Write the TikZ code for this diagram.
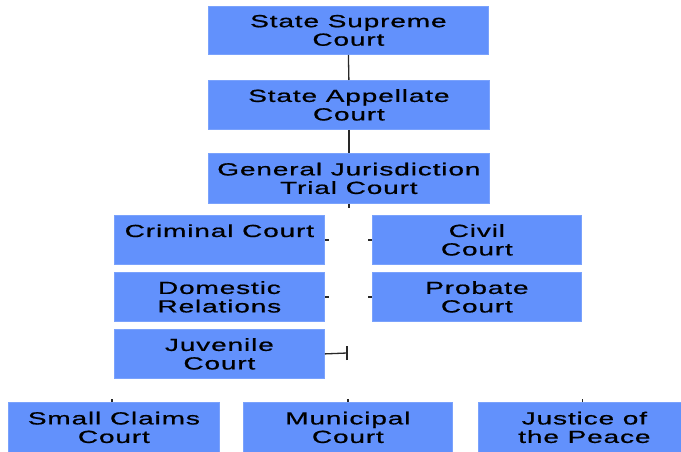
\documentclass[tikz,border=0pt]{standalone}
\usepackage{fontspec}
\setmainfont{Liberation Sans}[FakeStretch=1.6, LetterSpace=5, FakeBold=0.8]
\definecolor{boxblue}{RGB}{98,145,252}
\definecolor{linegray}{RGB}{40,40,40}
\tikzset{
  court/.style={draw=boxblue!85!white, line width=0.8pt, fill=boxblue, rectangle, anchor=north west,
    inner sep=0pt, align=center, font=\fontsize{17.5}{18.5}\selectfont, text=black},
  conn/.style={draw=linegray, line width=1.3pt},
}
\begin{document}
\begin{tikzpicture}[x=1pt,y=-1pt]
\clip (0,0) rectangle (681,451);
\useasboundingbox (0,0) rectangle (681,451);
\newcommand{\court}[6]{%
  \node[court, minimum width=#4-#2, minimum height=#5-#3] (#1) at (#2,#3) {#6};}
\court{sup}{208}{6}{488}{54}{State Supreme\\Court}
\court{app}{208}{80}{489}{129}{State Appellate\\Court}
\court{gen}{208}{153}{489}{203}{General Jurisdiction\\Trial Court}
\court{crim}{114}{215}{324}{264}{Criminal Court\\\mbox{}}
\court{civ}{372}{215}{581}{264}{Civil\\Court}
\court{dom}{114}{272}{324}{321}{Domestic\\Relations}
\court{prob}{372}{272}{581}{321}{Probate\\Court}
\court{juv}{114}{329}{324}{378}{Juvenile\\Court}
\court{small}{8}{402}{219}{452}{Small Claims\\Court}
\court{muni}{243}{402}{452}{452}{Municipal\\Court}
\court{jp}{478}{402}{690}{452}{Justice of\\the Peace}
% connectors
\draw[conn] (sup.south) -- (app.north);
\draw[conn] (app.south) -- (gen.north);
\draw[conn] (gen.south) -- ++(0,4);
\draw[conn] (crim.east) -- ++(4,0);
\draw[conn] (civ.west) -- ++(-4,0);
\draw[conn] (dom.east) -- ++(4,0);
\draw[conn] (prob.west) -- ++(-4,0);
\coordinate (jend) at (347,353);
\draw[conn] (juv.east) -- (jend);
\draw[conn] ([yshift=-7]jend) -- ([yshift=7]jend);
\draw[conn] ([xshift=-2]small.north) -- ++(0,-3);
\draw[conn] (muni.north) -- ++(0,-3);
\draw[conn] ([xshift=-2]jp.north) -- ++(0,-3);
\end{tikzpicture}
\end{document}
